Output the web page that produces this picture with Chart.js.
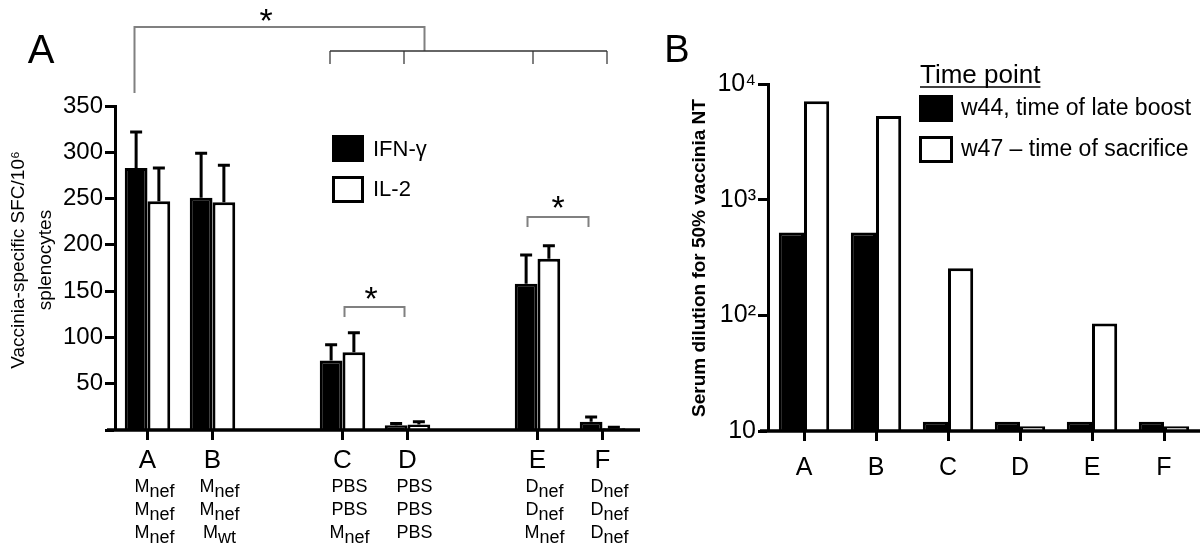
<!DOCTYPE html>
<html>
<head>
<meta charset="utf-8">
<script src="https://cdn.jsdelivr.net/npm/chart.js@4.4.1/dist/chart.umd.min.js"></script>
<style>
  html, body { margin: 0; padding: 0; background: #fff; }
  #wrap { position: relative; width: 1200px; height: 555px; overflow: hidden; }
  canvas { position: absolute; top: 0; }
  #cA { left: 0; }
  #cB { left: 650px; }
</style>
</head>
<body>
<div id="wrap">
  <canvas id="cA" width="650" height="555"></canvas>
  <canvas id="cB" width="550" height="555"></canvas>
</div>
<script>
// --- data, panel A (ELISpot) ---
const groups = ['A', 'B', 'C', 'D', 'E', 'F'];
const ifnValues = [283, 251, 75, 5, 158, 9];
const ifnErrors = [39, 48, 17, 2, 31, 5];
const il2Values = [247, 246, 84, 6, 185, 2];
const il2Errors = [36, 40, 21, 3, 14, 1];
const regimens = [
  ['M_nef', 'M_nef', 'M_nef'],
  ['M_nef', 'M_nef', 'M_wt'],
  ['PBS', 'PBS', 'M_nef'],
  ['PBS', 'PBS', 'PBS'],
  ['D_nef', 'D_nef', 'M_nef'],
  ['D_nef', 'D_nef', 'D_nef']
];
const yTicksA = [0, 50, 100, 150, 200, 250, 300, 350];
const gapAfter = ['B', 'D'];

// --- data, panel B (neutralisation titres) ---
const w44Values = [520, 520, 12, 12, 12, 12];
const w47Values = [7100, 5300, 255, 11, 85, 11];
const yTicksB = [10, 100, 1000, 10000];
const yTickLabelsB = ['10', '10²', '10³', '10⁴'];

const FONT = '"Liberation Sans", Arial, sans-serif';
const GREY = '#808080';

// insert an empty slot after B and D so the groups sit in pairs
function withGaps(arr, fill) {
  const out = [];
  groups.forEach((g, i) => {
    out.push(arr[i]);
    if (gapAfter.includes(g)) out.push(fill);
  });
  return out;
}
const slotLabels = withGaps(groups, '');

function drawSubText(ctx, text, cx, y, size) {
  const [main, sub] = text.split('_');
  ctx.font = size + 'px ' + FONT;
  const w1 = ctx.measureText(main).width;
  const w2 = sub ? ctx.measureText(sub).width : 0;
  const x = cx - (w1 + w2) / 2;
  ctx.textAlign = 'left';
  ctx.textBaseline = 'alphabetic';
  ctx.fillText(main, x, y);
  if (sub) ctx.fillText(sub, x + w1, y + 5);
}

function drawStar(ctx, cx, cy) {
  ctx.font = '34px ' + FONT;
  ctx.textAlign = 'center';
  ctx.textBaseline = 'alphabetic';
  const m = ctx.measureText('*');
  ctx.fillText('*', cx, cy + (m.actualBoundingBoxAscent - m.actualBoundingBoxDescent) / 2);
}

function axisOpts(extra) {
  return Object.assign({
    grid: { display: true, drawOnChartArea: false, drawTicks: true, tickLength: 10, tickWidth: 3, tickColor: '#000', offset: false },
    border: { display: true, width: 3, color: '#000' }
  }, extra);
}

const panelA = {
  id: 'panelA',
  afterDatasetsDraw(chart) {
    const ctx = chart.ctx, xs = chart.scales.x, ys = chart.scales.y, area = chart.chartArea;
    const px = g => xs.getPixelForValue(slotLabels.indexOf(g));
    ctx.save();
    ctx.fillStyle = '#000';
    ctx.strokeStyle = '#000';

    // error bars, upper half only
    [ifnErrors, il2Errors].forEach((errs, d) => {
      const vals = chart.data.datasets[d].data;
      const e = withGaps(errs, null);
      chart.getDatasetMeta(d).data.forEach((bar, j) => {
        if (vals[j] == null) return;
        const top = ys.getPixelForValue(vals[j] + e[j]);
        ctx.lineWidth = 3;
        ctx.beginPath();
        ctx.moveTo(bar.x, bar.y);
        ctx.lineTo(bar.x, top);
        ctx.moveTo(bar.x - 6, top);
        ctx.lineTo(bar.x + 6, top);
        ctx.stroke();
      });
    });

    // x axis line
    ctx.lineWidth = 3.5;
    ctx.beginPath();
    ctx.moveTo(area.left - 8, area.bottom);
    ctx.lineTo(area.right + 5, area.bottom);
    ctx.stroke();

    // group letters and immunisation regimens
    groups.forEach((g, i) => {
      const x = px(g);
      ctx.font = '26px ' + FONT;
      ctx.textAlign = 'center';
      ctx.textBaseline = 'alphabetic';
      ctx.fillText(g, x, 468);
      regimens[i].forEach((r, k) => drawSubText(ctx, r, x + 7, 492 + k * 23, 18));
    });

    // significance brackets
    ctx.strokeStyle = GREY;
    ctx.lineWidth = 2;
    ctx.beginPath();
    ctx.moveTo(px('A') - 13, 93); ctx.lineTo(px('A') - 13, 27);
    ctx.lineTo(px('D') + 17, 27); ctx.lineTo(px('D') + 17, 51);
    [px('C') - 12.5, px('D') - 3.5, px('E') - 4.5, px('F') + 4.5].forEach(t => {
      ctx.moveTo(t, 51); ctx.lineTo(t, 64);
    });
    ctx.moveTo(px('C') + 2, 317); ctx.lineTo(px('C') + 2, 307);
    ctx.lineTo(px('D') - 3, 307); ctx.lineTo(px('D') - 3, 317);
    ctx.moveTo(px('E') - 10, 227); ctx.lineTo(px('E') - 10, 217);
    ctx.lineTo(px('F') - 14, 217); ctx.lineTo(px('F') - 14, 227);
    ctx.stroke();
    ctx.strokeStyle = '#333';
    ctx.lineWidth = 1.5;
    ctx.beginPath();
    ctx.moveTo(px('C') - 12.5, 51); ctx.lineTo(px('F') + 4.5, 51);
    ctx.stroke();
    ctx.fillStyle = '#000';
    drawStar(ctx, 266, 15);
    drawStar(ctx, 371, 293);
    drawStar(ctx, 558, 202);

    // legend
    ctx.fillRect(332, 135, 32, 27);
    ctx.strokeStyle = '#000';
    ctx.lineWidth = 3;
    ctx.strokeRect(333.5, 177.5, 29, 24);
    ctx.font = '22px ' + FONT;
    ctx.textAlign = 'left';
    ctx.textBaseline = 'middle';
    ctx.fillText('IFN-γ', 373, 150);
    ctx.fillText('IL-2', 373, 190);

    // panel letter
    ctx.font = '40px ' + FONT;
    ctx.textAlign = 'center';
    ctx.textBaseline = 'alphabetic';
    ctx.fillText('A', 41, 63);

    // y title
    ctx.translate(0, 260);
    ctx.rotate(-Math.PI / 2);
    ctx.font = '19px ' + FONT;
    ctx.textBaseline = 'middle';
    ctx.fillText('Vaccinia-specific SFC/10⁶', 0, 19);
    ctx.fillText('splenocytes', 0, 46);
    ctx.restore();
  }
};

const panelB = {
  id: 'panelB',
  afterDatasetsDraw(chart) {
    const ctx = chart.ctx, area = chart.chartArea;
    ctx.save();
    ctx.fillStyle = '#000';
    ctx.strokeStyle = '#000';
    ctx.lineWidth = 3.5;
    ctx.beginPath();
    ctx.moveTo(area.left - 8, area.bottom);
    ctx.lineTo(area.right, area.bottom);
    ctx.stroke();

    // legend
    ctx.font = '26px ' + FONT;
    ctx.textAlign = 'left';
    ctx.textBaseline = 'alphabetic';
    const tw = ctx.measureText('Time point').width;
    ctx.fillText('Time point', 270, 83);
    ctx.lineWidth = 1.5;
    ctx.beginPath();
    ctx.moveTo(270, 87); ctx.lineTo(270 + tw, 87);
    ctx.stroke();
    ctx.fillRect(269, 95, 34, 27);
    ctx.lineWidth = 3;
    ctx.strokeRect(270.5, 137.5, 31, 24);
    ctx.font = '23px ' + FONT;
    ctx.textBaseline = 'middle';
    ctx.fillText('w44, time of late boost', 311, 109);
    ctx.fillText('w47 – time of sacrifice', 311, 150);

    ctx.font = '38px ' + FONT;
    ctx.textAlign = 'center';
    ctx.textBaseline = 'alphabetic';
    ctx.fillText('B', 27, 62);

    ctx.translate(50, 258);
    ctx.rotate(-Math.PI / 2);
    ctx.font = 'bold 19px ' + FONT;
    ctx.textBaseline = 'middle';
    ctx.fillText('Serum dilution for 50% vaccinia NT', 0, 0);
    ctx.restore();
  }
};

const barStyle = { borderColor: '#000', borderWidth: 3, categoryPercentage: 0.7, barPercentage: 1.0 };

new Chart(document.getElementById('cA'), {
  type: 'bar',
  data: {
    labels: slotLabels,
    datasets: [
      Object.assign({ label: 'IFN-γ', data: withGaps(ifnValues, null), backgroundColor: '#000' }, barStyle),
      Object.assign({ label: 'IL-2', data: withGaps(il2Values, null), backgroundColor: '#fff' }, barStyle)
    ]
  },
  options: {
    responsive: false,
    animation: false,
    devicePixelRatio: 1,
    layout: { padding: { top: 106, left: 0, right: 15, bottom: 0 } },
    plugins: { legend: { display: false }, tooltip: { enabled: false } },
    scales: {
      x: axisOpts({
        offset: true,
        ticks: { display: false },
        grid: {
          display: true, drawOnChartArea: false, drawTicks: true, tickLength: 10, tickWidth: 3, offset: false,
          tickColor: c => (slotLabels[c.index] === '' ? 'rgba(0,0,0,0)' : '#000')
        },
        border: { display: false },
        afterFit: s => { s.height = 555 - 430; }
      }),
      y: axisOpts({
        min: 0, max: 350,
        afterBuildTicks: s => { s.ticks = yTicksA.map(v => ({ value: v })); },
        ticks: { color: '#000', font: { family: FONT, size: 24 }, padding: 2, callback: v => (v === 0 ? '' : v) },
        afterFit: s => { s.width = 115; }
      })
    }
  },
  plugins: [panelA]
});

new Chart(document.getElementById('cB'), {
  type: 'bar',
  data: {
    labels: groups,
    datasets: [
      Object.assign({ label: 'w44, time of late boost', data: w44Values, backgroundColor: '#000' }, barStyle),
      Object.assign({ label: 'w47 – time of sacrifice', data: w47Values, backgroundColor: '#fff' }, barStyle)
    ]
  },
  options: {
    responsive: false,
    animation: false,
    devicePixelRatio: 1,
    layout: { padding: { top: 84, left: 0, right: 0, bottom: 0 } },
    plugins: { legend: { display: false }, tooltip: { enabled: false } },
    scales: {
      x: axisOpts({
        offset: true,
        ticks: { color: '#000', font: { family: FONT, size: 25 }, padding: 12 },
        border: { display: false },
        afterFit: s => { s.height = 555 - 431; }
      }),
      y: axisOpts({
        type: 'logarithmic',
        min: 10, max: 10000,
        afterBuildTicks: s => { s.ticks = yTicksB.map(v => ({ value: v })); },
        ticks: { color: '#000', font: { family: FONT, size: 25 }, padding: 2, callback: v => yTickLabelsB[yTicksB.indexOf(v)] },
        afterFit: s => { s.width = 118; }
      })
    }
  },
  plugins: [panelB]
});
</script>
</body>
</html>
